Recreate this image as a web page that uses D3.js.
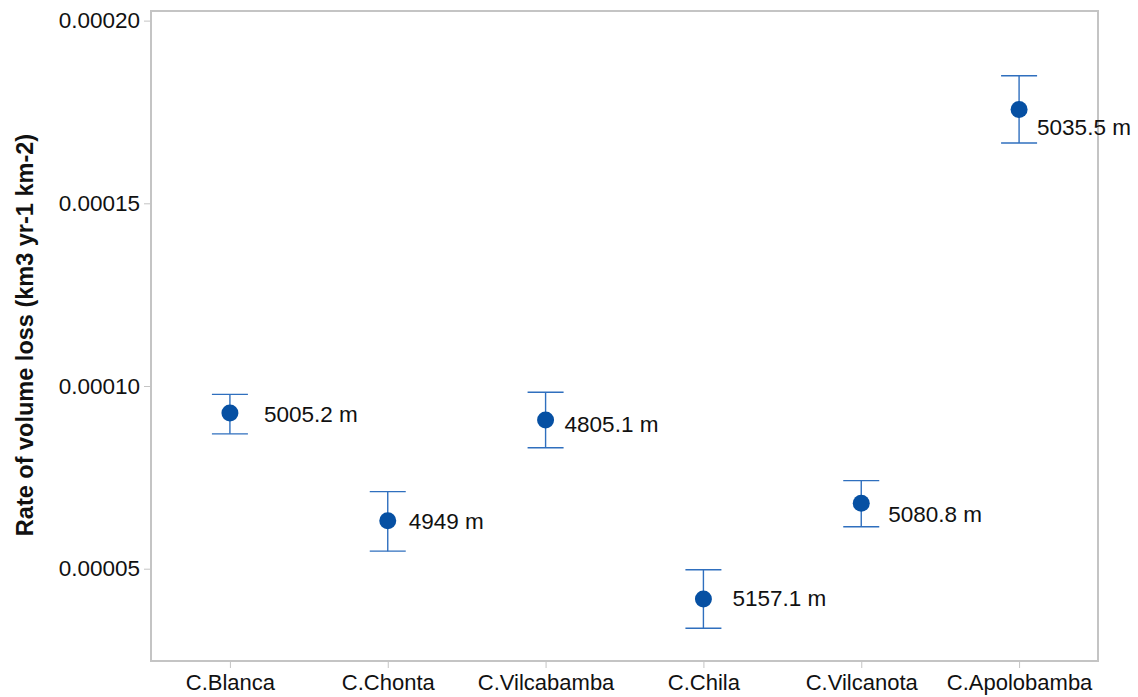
<!DOCTYPE html>
<html>
<head>
<meta charset="utf-8">
<script src="https://cdn.jsdelivr.net/npm/d3@7"></script>
<style>
  html, body { margin: 0; padding: 0; background: #fff; }
  svg { display: block; font-family: "Liberation Sans", Arial, sans-serif; }
</style>
</head>
<body>
<svg id="chart" width="1138" height="697"></svg>
<script>
// Cordilleras and their mean rate of volume loss with error range
const categories = ["C.Blanca", "C.Chonta", "C.Vilcabamba", "C.Chila", "C.Vilcanota", "C.Apolobamba"];
const rates      = [0.0000926, 0.0000631, 0.0000907, 0.0000417, 0.0000679, 0.0001757];
const upper      = [0.0000977, 0.0000711, 0.0000983, 0.0000497, 0.0000741, 0.0001849];
const lower      = [0.0000869, 0.0000548, 0.0000831, 0.0000337, 0.0000615, 0.0001665];
const elevations = ["5005.2 m", "4949 m", "4805.1 m", "5157.1 m", "5080.8 m", "5035.5 m"];
const yTicks     = [0.00005, 0.00010, 0.00015, 0.00020];

// Label placement relative to each marker (pixels)
const labelOffsets = [[34, 1], [21, 0], [19, 4], [29, -1], [27, 11], [18, 18]];

const svg = d3.select("#chart");
const plot = { left: 151, right: 1098, top: 11, bottom: 661 };

const x = d3.scalePoint()
  .domain(categories)
  .range([plot.left, plot.right])
  .padding(0.5);

const y = d3.scaleLinear()
  .domain([0.00002474, 0.00020263])
  .range([plot.bottom, plot.top]);

const axisColor = "#c4c4c4";
const font = "'Liberation Sans', Arial, sans-serif";

// Left axis
const yAxis = svg.append("g")
  .attr("transform", `translate(${plot.left},0)`)
  .call(d3.axisLeft(y).tickValues(yTicks).tickFormat(d3.format(".5f")).tickSize(7).tickPadding(4));
yAxis.select(".domain").remove();
yAxis.selectAll(".tick line").attr("stroke", axisColor).attr("stroke-width", 1);
yAxis.selectAll(".tick text")
  .attr("fill", "#111").style("font-size", "22.5px").style("font-family", font);

// Bottom axis
const xAxis = svg.append("g")
  .attr("transform", `translate(0,${plot.bottom})`)
  .call(d3.axisBottom(x).tickSize(7).tickPadding(6));
xAxis.select(".domain").remove();
xAxis.selectAll(".tick line").attr("stroke", axisColor).attr("stroke-width", 1);
xAxis.selectAll(".tick text")
  .attr("fill", "#111").style("font-size", "22px").style("font-family", font);

// Plot frame
svg.append("rect")
  .attr("x", plot.left).attr("y", plot.top)
  .attr("width", plot.right - plot.left).attr("height", plot.bottom - plot.top)
  .attr("fill", "none").attr("stroke", axisColor).attr("stroke-width", 2);

// Axis title
svg.append("text")
  .attr("transform", `translate(33,${(125 + 545) / 2}) rotate(-90)`)
  .attr("text-anchor", "middle")
  .style("font-size", "23.5px").style("font-weight", "bold")
  .attr("fill", "#111")
  .text("Rate of volume loss (km3 yr-1 km-2)");

const data = categories.map((c, i) => ({
  c, v: rates[i], hi: upper[i], lo: lower[i], label: elevations[i], off: labelOffsets[i]
}));

const capHalf = 18;
const barColor = "#2f6fbe";
const dotColor = "#0650a3";

const g = svg.append("g");
const pt = g.selectAll("g.pt").data(data).join("g").attr("class", "pt");

pt.append("line")
  .attr("x1", d => x(d.c)).attr("x2", d => x(d.c))
  .attr("y1", d => y(d.hi)).attr("y2", d => y(d.lo))
  .attr("stroke", barColor).attr("stroke-width", 1.4);
pt.append("line")
  .attr("x1", d => x(d.c) - capHalf).attr("x2", d => x(d.c) + capHalf)
  .attr("y1", d => y(d.hi)).attr("y2", d => y(d.hi))
  .attr("stroke", barColor).attr("stroke-width", 1.4);
pt.append("line")
  .attr("x1", d => x(d.c) - capHalf).attr("x2", d => x(d.c) + capHalf)
  .attr("y1", d => y(d.lo)).attr("y2", d => y(d.lo))
  .attr("stroke", barColor).attr("stroke-width", 1.4);
pt.append("circle")
  .attr("cx", d => x(d.c)).attr("cy", d => y(d.v))
  .attr("r", 8.5).attr("fill", dotColor);
pt.append("text")
  .attr("x", d => x(d.c) + d.off[0])
  .attr("y", d => y(d.v) + d.off[1])
  .attr("dy", "0.35em")
  .style("font-size", "22.5px")
  .attr("fill", "#111")
  .text(d => d.label);
</script>
</body>
</html>
